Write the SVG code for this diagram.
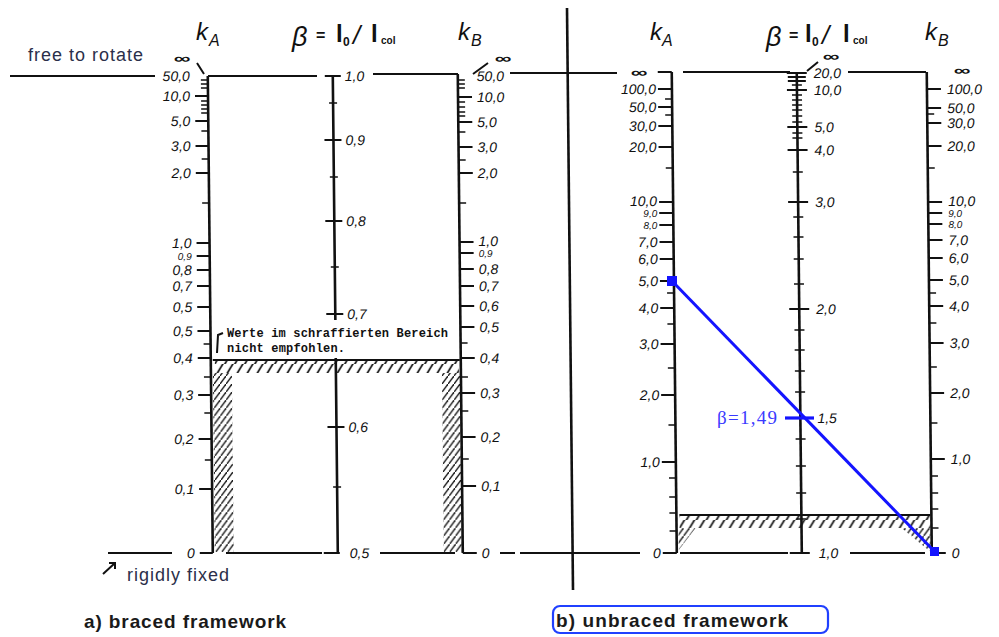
<svg xmlns="http://www.w3.org/2000/svg" width="999" height="637" viewBox="0 0 999 637">
<style>
.ax{stroke:#111;stroke-width:2.6;fill:none}
.tk{stroke:#111;stroke-width:2;fill:none}
.mt{stroke:#111;stroke-width:1.6;fill:none}
.ln{stroke:#111;stroke-width:2;fill:none}
.n{font-family:"Liberation Sans",Arial,sans-serif;font-style:italic;font-size:14px;fill:#111}
.s{font-size:10px}
.e{text-anchor:end}
.hd{font-family:"Liberation Sans",Arial,sans-serif;font-style:italic;fill:#111}
.hb{font-family:"Liberation Sans",Arial,sans-serif;font-weight:bold;fill:#111}
.inf{font-family:"Liberation Sans",Arial,sans-serif;font-weight:bold;font-size:18px;fill:#111;text-anchor:middle}
.cap{font-family:"Liberation Sans",Arial,sans-serif;font-weight:bold;font-size:19px;fill:#1a1a1a}
.note{font-family:"Liberation Sans",Arial,sans-serif;font-size:18px;fill:#2b2f4a}
.mono{font-family:"Liberation Mono","Courier New",monospace;font-weight:bold;font-size:12px;fill:#111}
</style>
<defs>
<pattern id="h" patternUnits="userSpaceOnUse" width="10" height="13">
<path d="M1,13 L9,0" stroke="#111" stroke-width="1.7" stroke-linecap="square"/>
</pattern>
<pattern id="v" patternUnits="userSpaceOnUse" width="6" height="8">
<path d="M0,8 L6,0" stroke="#111" stroke-width="1.4" stroke-linecap="square"/>
</pattern>
</defs>
<rect width="999" height="637" fill="#fff"/>

<!-- headers -->
<g id="header-left">
<text x="196" y="40" class="hd" font-size="24">k</text>
<text x="209" y="46" class="hd" font-size="16">A</text>
<text x="292" y="46" class="hd" font-size="27">β</text>
<text x="316" y="41" class="hb" font-size="16">=</text>
<text x="336" y="42" class="hb" font-size="24">l</text>
<text x="343" y="46" class="hb" font-size="12">0</text>
<text x="353" y="44" class="hd" font-size="26">/</text>
<text x="371" y="42" class="hb" font-size="24">l</text>
<text x="381" y="44" class="hb" font-size="10">col</text>
<text x="458" y="40" class="hd" font-size="24">k</text>
<text x="471" y="46" class="hd" font-size="16">B</text>
</g>
<g id="header-right">
<text x="650" y="40" class="hd" font-size="24">k</text>
<text x="662" y="46" class="hd" font-size="16">A</text>
<text x="766" y="46" class="hd" font-size="27">β</text>
<text x="789" y="41" class="hb" font-size="16">=</text>
<text x="805" y="42" class="hb" font-size="24">l</text>
<text x="812" y="46" class="hb" font-size="12">0</text>
<text x="822" y="44" class="hd" font-size="26">/</text>
<text x="843" y="42" class="hb" font-size="24">l</text>
<text x="853" y="44" class="hb" font-size="10">col</text>
<text x="925" y="40" class="hd" font-size="24">k</text>
<text x="938" y="46" class="hd" font-size="16">B</text>
</g>

<text x="28" y="61" class="note" textLength="115">free to rotate</text>
<text x="127" y="581" class="note" font-size="17" textLength="102">rigidly fixed</text>
<path class="ln" d="M115,563 L103,574 M109,563 H115 V569" stroke-width="1.6"/>

<!-- infinity marks -->
<g id="infinity">
<text class="inf" transform="translate(182,63) scale(1.3,0.75)">∞</text>
<text class="inf" transform="translate(503,63) scale(1.3,0.75)">∞</text>
<text class="inf" transform="translate(639,77) scale(1.3,0.75)">∞</text>
<text class="inf" transform="translate(831,61) scale(1.3,0.75)">∞</text>
<text class="inf" transform="translate(962,75) scale(1.3,0.75)">∞</text>
<path class="ln" d="M197,63 L204,74 M473,74 L488,63 M807,71 L818,62" stroke-width="1.6"/>
</g>

<!-- horizontal lines -->
<g id="lines">
<path class="ln" d="M10,76H155 M208,76H317 M373,74H458 M510,73H617 M683,72H790 M848,72H926"/>
<path class="ln" d="M108,553H172 M226,553H322 M380,553H455 M500,553H515 M520,553H640 M680,553H788 M850,553H925"/>
<line x1="567" y1="8" x2="573" y2="590" stroke="#111" stroke-width="2.6"/>
</g>

<text x="227" y="337" class="mono" textLength="221">Werte im schraffierten Bereich</text>
<text x="227" y="352" class="mono" textLength="118">nicht empfohlen.</text>
<path class="ln" d="M223,333 L218,335 L217,353" stroke-width="1.6"/>

<g transform="skewX(0.6)">
<!-- hatching -->
<g id="hatch-left">
<rect x="211" y="361" width="244" height="12" fill="url(#h)"/>
<rect x="209" y="373" width="19" height="179" fill="url(#v)"/>
<rect x="438" y="373" width="18" height="179" fill="url(#v)"/>
<path class="ln" d="M209,360H456"/>
</g>
<g id="hatch-right">
<rect x="674" y="516" width="251" height="12" fill="url(#h)"/>
<polygon points="896,528 925,528 925,552" fill="url(#v)"/>
<polygon points="673,528 690,528 673,550" fill="url(#v)"/>
<path class="ln" d="M674,515H925"/>
</g>

<!-- left kA -->
<g id="left-kA">
<path class="ax" d="M207,76V553"/>
<path class="tk" d="M194,96H207M194,121H207M194,146H207M194,173H207M194,243H207M194,256H207M194,270H207M194,286H207M194,307H207M194,331H207M194,358H207M194,395H207M194,439H207M194,489H207M194,553H207"/>
<path class="mt" d="M200,80H207M200,84H207M200,88H207M200,101H207M200,105H207M200,109H207M200,113H207M200,131H207M200,159H207M200,203H207M200,344H207M200,377H207M200,413H207M200,460H207"/>
<g class="n e">
<text x="189" y="81">50,0</text><text x="189" y="101">10,0</text><text x="189" y="126">5,0</text><text x="189" y="151">3,0</text><text x="189" y="178">2,0</text><text x="189" y="248">1,0</text><text x="189" y="260" class="s">0,9</text><text x="189" y="275">0,8</text><text x="189" y="291">0,7</text><text x="189" y="312">0,5</text><text x="189" y="336">0,5</text><text x="189" y="363">0,4</text><text x="189" y="400">0,3</text><text x="189" y="444">0,2</text><text x="189" y="494">0,1</text><text x="189" y="558">0</text>
</g>
</g>

<!-- left beta -->
<g id="left-beta">
<path class="ax" d="M332,76V320M332,358V553"/>
<path class="tk" d="M324,76H340M323,140H340M323,221H340M323,314H340M323,427H340M318,553H334"/>
<path class="mt" d="M328,103H336M328,177H336M328,267H336M328,487H336"/>
<g class="n">
<text x="344" y="81">1,0</text><text x="344" y="145">0,9</text><text x="344" y="226">0,8</text><text x="344" y="319">0,7</text><text x="344" y="432">0,6</text><text x="344" y="558">0,5</text>
</g>
</g>

<!-- left kB -->
<g id="left-kB">
<path class="ax" d="M457,74V553"/>
<path class="tk" d="M457,97H471M457,122H471M457,147H471M457,173H471M457,242H471M457,253H471M457,269H471M457,286H471M457,306H471M457,327H471M457,358H471M457,393H471M457,437H471M457,486H471M457,553H471"/>
<path class="mt" d="M457,80H464M457,84H464M457,88H464M457,102H464M457,107H464M457,112H464M457,116H464M457,132H464M457,160H464M457,203H464M457,343H464M457,377H464M457,411H464M457,459H464"/>
<g class="n">
<text x="476" y="81">50,0</text><text x="476" y="102">10,0</text><text x="476" y="127">5,0</text><text x="476" y="152">3,0</text><text x="476" y="178">2,0</text><text x="476" y="246">1,0</text><text x="476" y="257" class="s">0,9</text><text x="476" y="274">0,8</text><text x="476" y="291">0,7</text><text x="476" y="311">0,6</text><text x="476" y="332">0,5</text><text x="476" y="363">0,4</text><text x="476" y="398">0,3</text><text x="476" y="442">0,2</text><text x="476" y="491">0,1</text><text x="476" y="558">0</text>
</g>
</g>

<!-- right kA -->
<g id="right-kA">
<path class="ax" d="M671,72V553"/>
<path class="tk" d="M657,72H671M657,89H671M657,107H671M657,126H671M657,147H671M657,202H671M657,213H671M657,225H671M657,242H671M657,259H671M657,281H671M657,308H671M657,344H671M657,395H671M657,462H671M657,553H671"/>
<path class="mt" d="M664,99H671M664,115H671M664,168H671M664,293H671M664,324H671M664,368H671M664,425H671M664,478H671M664,497H671M664,513H671M664,531H671"/>
<g class="n e">
<text x="655" y="94">100,0</text><text x="655" y="112">50,0</text><text x="655" y="131">30,0</text><text x="655" y="152">20,0</text><text x="655" y="206">10,0</text><text x="655" y="217" class="s">9,0</text><text x="655" y="229" class="s">8,0</text><text x="655" y="247">7,0</text><text x="655" y="264">6,0</text><text x="655" y="286">5,0</text><text x="655" y="313">4,0</text><text x="655" y="349">3,0</text><text x="655" y="400">2,0</text><text x="655" y="467">1,0</text><text x="655" y="558">0</text>
</g>
</g>

<!-- right beta -->
<g id="right-beta">
<path class="ax" d="M796,72V553"/>
<path class="tk" d="M786,73H806M787,77H805M787,81H805M786,90H806M786,127H806M786,150H806M786,202H806M786,309H806M784,553H804"/>
<path class="mt" d="M791,85H801M791,95H801M791,100H801M791,105H801M791,110H801M791,116H801M791,122H801M791,133H801M791,138H801M791,172H801M791,217H801M791,237H801M791,259H801M791,284H801M791,330H801M791,350H801M791,371H801M791,392H801M791,439H801M791,466H801M791,493H801M791,519H801"/>
<g class="n">
<text x="813" y="78">20,0</text><text x="813" y="95">10,0</text><text x="813" y="132">5,0</text><text x="813" y="155">4,0</text><text x="813" y="207">3,0</text><text x="813" y="314">2,0</text><text x="813" y="423">1,5</text><text x="813" y="558">1,0</text>
</g>
</g>

<!-- right kB -->
<g id="right-kB">
<path class="ax" d="M926,72V553"/>
<path class="tk" d="M926,89H940M926,108H940M926,123H940M926,146H940M926,202H940M926,213H940M926,224H940M926,240H940M926,258H940M926,280H940M926,306H940M926,343H940M926,393H940M926,459H940M926,553H940"/>
<path class="mt" d="M926,114H933M926,168H933M926,293H933M926,323H933M926,367H933M926,423H933M926,476H933M926,493H933M926,509H933M926,528H933"/>
<g class="n">
<text x="946" y="94">100,0</text><text x="946" y="113">50,0</text><text x="946" y="128">30,0</text><text x="946" y="151">20,0</text><text x="946" y="206">10,0</text><text x="946" y="217" class="s">9,0</text><text x="946" y="228" class="s">8,0</text><text x="946" y="245">7,0</text><text x="946" y="263">6,0</text><text x="946" y="285">5,0</text><text x="946" y="311">4,0</text><text x="946" y="348">3,0</text><text x="946" y="398">2,0</text><text x="946" y="464">1,0</text><text x="946" y="558">0</text>
</g>
</g>
</g>

<!-- example line -->
<g id="example" fill="#1414ff">
<line x1="672" y1="281" x2="934" y2="551" stroke="#1414ff" stroke-width="3"/>
<rect x="667" y="276" width="10" height="10"/>
<rect x="930" y="547" width="9" height="9"/>
<line x1="785" y1="418" x2="814" y2="418" stroke="#1414ff" stroke-width="3.2"/>
<text x="777" y="424" text-anchor="end" font-family="'Liberation Serif','Times New Roman',serif" font-size="19" fill="#3a3aff" textLength="60">β=1,49</text>
</g>

<!-- captions -->
<text x="84" y="628" class="cap" textLength="202">a) braced framework</text>
<rect x="553" y="606" width="275" height="27" rx="7" fill="none" stroke="#2040ff" stroke-width="2.2"/>
<text x="556" y="627" class="cap" textLength="232">b) unbraced framework</text>
</svg>
